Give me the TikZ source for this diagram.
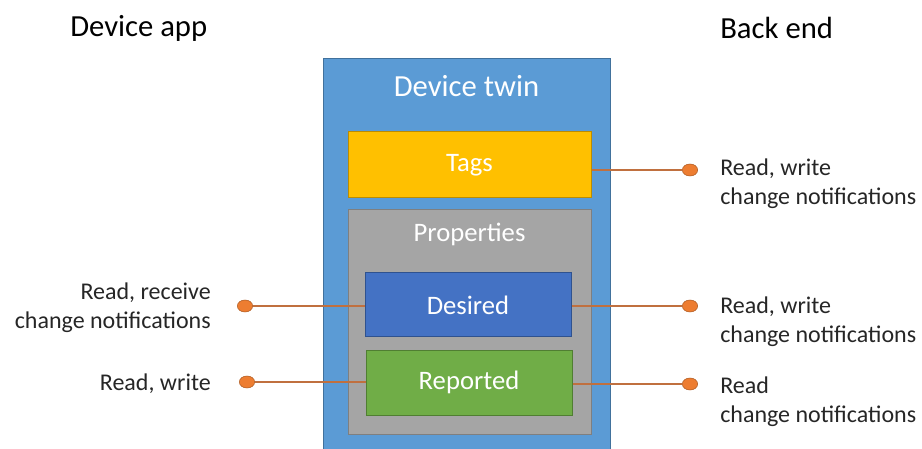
\documentclass[tikz,border=0pt]{standalone}
\usepackage{fontspec}
\setmainfont{Carlito}
\usepackage{tikz}
\usetikzlibrary{shapes.geometric,positioning}
\definecolor{twinblue}{HTML}{5B9BD5}
\definecolor{twinedge}{HTML}{41719C}
\definecolor{tagyellow}{HTML}{FFC000}
\definecolor{tagedge}{HTML}{BC8C00}
\definecolor{propgray}{HTML}{A5A5A5}
\definecolor{propedge}{HTML}{7F7F7F}
\definecolor{desblue}{HTML}{4472C4}
\definecolor{desedge}{HTML}{2F528F}
\definecolor{repgreen}{HTML}{70AD47}
\definecolor{repedge}{HTML}{507E32}
\definecolor{dotorange}{HTML}{ED7D31}
\definecolor{dotedge}{HTML}{AE5A21}
\definecolor{linkbrown}{HTML}{C0703F}
\tikzset{box style/.style={
		draw=#1,
		line width=0.75pt,
		rectangle,
		text=white,
		font=\fontsize{20}{24}\selectfont,
		inner sep=0pt,
	},
	title style/.style={
		text=white,
		font=\fontsize{#1}{#1}\selectfont,
		inner sep=0pt,
	},
	dot style/.style={
		draw=dotedge,
		fill=dotorange,
		ellipse,
		inner sep=0pt,
		minimum width=11.5pt,
		minimum height=9pt,
	},
	note style/.style={
		text=black!85,
		font=\fontsize{18}{21.75}\selectfont,
		inner sep=0pt,
	},
	head style/.style={
		text=black,
		font=\fontsize{23}{27}\selectfont,
		inner sep=0pt,
	},
	link/.style={
		draw=linkbrown,
		line width=1pt,
	}
}
\begin{document}
\begin{tikzpicture}[x=0.75pt,y=-0.75pt]
	\useasboundingbox (0,0) rectangle (922,449);

	% headings
	\node[head style, anchor=west] (devapp) at (70,28) {Device app};
	\node[head style, anchor=west] (backend) at (720,28) {Back end};

	% device twin with its parts
	\node[box style=twinedge, fill=twinblue, minimum width=215.25pt, minimum height=294.75pt] (twin) at (466.5,255.5) {};
	\node[title style=23] (twintitle) at ([yshift=-20.5pt]twin.north) {Device twin};

	\node[box style=tagedge, fill=tagyellow, minimum width=182.25pt, minimum height=49.5pt] (tags) at (469.5,165) {\raisebox{-1.5pt}{Tags}};

	\node[box style=propedge, fill=propgray, minimum width=182.25pt, minimum height=168pt] (props) at (469.5,322) {};
	\node[title style=20] (proptitle) at ([yshift=-18.5pt]props.north) {Properties};

	\node[box style=desedge, fill=desblue, minimum width=154.5pt, minimum height=48pt] (desired) at (468,305) {Desired};
	\node[box style=repedge, fill=repgreen, minimum width=154.5pt, minimum height=48.75pt] (reported) at (469,382.5) {\raisebox{-1pt}{Reported}};

	% end points
	\node[dot style] (tagsR) at (690,170) {};
	\node[dot style] (desiredR) at (690,306) {};
	\node[dot style] (reportedR) at (690,384) {};
	\node[dot style] (desiredL) at (245,306) {};
	\node[dot style] (reportedL) at (247,382) {};

	\draw[link] (tags.east |- tagsR) -- (tagsR.west);
	\draw[link] (desired.east |- desiredR) -- (desiredR.west);
	\draw[link] (reported.east |- reportedR) -- (reportedR.west);
	\draw[link] (desiredL.east) -- (desiredL -| desired.west);
	\draw[link] (reportedL.east) -- (reportedL -| reported.west);

	% back end notes
	\node[note style, align=left, anchor=west] (tagsnote) at (720,184) {Read, write\\change notifications};
	\node[note style, align=left, anchor=west] (desirednote) at (720,322) {Read, write\\change notifications};
	\node[note style, align=left, anchor=west] (reportednote) at (720,401.5) {Read\\change notifications};

	% device app notes
	\node[note style, align=right, anchor=east] (desiredapp) at (211,308) {Read, receive\\change notifications};
	\node[note style, align=right, anchor=east] (reportedapp) at (211,383.5) {Read, write};
\end{tikzpicture}
\end{document}
